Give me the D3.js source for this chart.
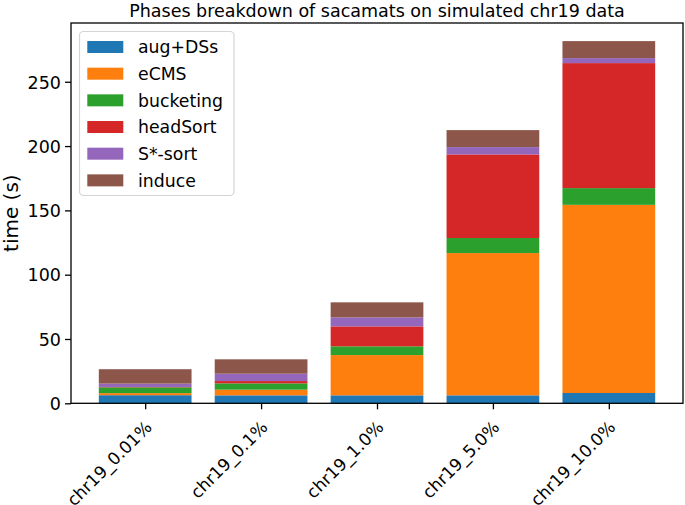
<!DOCTYPE html>
<html><head><meta charset="utf-8">
<script src="https://cdn.jsdelivr.net/npm/d3@7"></script>
<style>body{margin:0;background:#fff}svg{display:block}text{font-family:"DejaVu Sans",sans-serif;fill:#000}</style>
</head><body><svg id="c" width="685" height="505"></svg>
<script>
const categories = ["chr19_0.01%","chr19_0.1%","chr19_1.0%","chr19_5.0%","chr19_10.0%"];
const phases = ["aug+DSs","eCMS","bucketing","headSort","S*-sort","induce"];
const augDSs    = [6.3, 6.2, 6.2, 6.2, 8.0];
const eCMS      = [1.6, 4.4, 31.3, 110.6, 146.3];
const bucketing = [4.5, 4.9, 6.8, 11.7, 13.0];
const headSort  = [0.3, 1.8, 15.5, 65.0, 97.2];
const sStarSort = [2.6, 5.7, 7.0, 5.7, 3.9];
const induce    = [11.2, 11.2, 11.7, 13.2, 13.2];
const yTicks = [0, 50, 100, 150, 200, 250];
const colors = ["#1f77b4","#ff7f0e","#2ca02c","#d62728","#9467bd","#8c564b"];
const title = "Phases breakdown of sacamats on simulated chr19 data";
const yLabel = "time (s)";

const series = [augDSs, eCMS, bucketing, headSort, sStarSort, induce];
const rows = categories.map((c, i) => {
  const r = {cat: c};
  phases.forEach((p, j) => r[p] = series[j][i]);
  return r;
});
const stacked = d3.stack().keys(phases)(rows);

const L = 71, R = 683, T = 23, B = 403.3;
const totals = rows.map(r => d3.sum(phases, p => r[p]));
const yMax = d3.max(totals) * 1.05;
const y = d3.scaleLinear().domain([0, yMax]).range([B, T]);
const n = categories.length;
const x = d3.scaleLinear().domain([-0.64, n - 1 + 0.64]).range([L, R]);
const bw = x(0.8) - x(0);

const svg = d3.select("#c");

svg.append("g").selectAll("g").data(stacked).join("g")
  .attr("fill", (d, i) => colors[i])
  .selectAll("rect").data(d => d).join("rect")
  .attr("x", (d, i) => x(i) - bw / 2)
  .attr("width", bw)
  .attr("y", d => y(d[1]))
  .attr("height", d => y(d[0]) - y(d[1]));

// axes
const yAxis = d3.axisLeft(y).tickValues(yTicks).tickSize(6).tickPadding(4);
const gy = svg.append("g").attr("transform", `translate(${L},0)`).call(yAxis);
gy.select(".domain").remove();
gy.selectAll("line").attr("stroke", "#000").attr("stroke-width", 1.3);
gy.selectAll("text").style("font-size", "17.5px").attr("font-family", "DejaVu Sans").attr("dy", "0.36em");

const xAxis = d3.axisBottom(x).tickValues(d3.range(n)).tickFormat(i => categories[i]).tickSize(6).tickPadding(4);
const gx = svg.append("g").attr("transform", `translate(0,${B})`).call(xAxis);
gx.select(".domain").remove();
gx.selectAll("line").attr("stroke", "#000").attr("stroke-width", 1.3);
gx.selectAll("text")
  .style("font-size", "17px").attr("font-family", "DejaVu Sans")
  .attr("text-anchor", "end")
  .attr("x", -2).attr("y", 16).attr("dy", "0.76em")
  .attr("transform", "rotate(-45,-2,16)");

// spines
svg.append("rect").attr("x", L).attr("y", T).attr("width", R - L).attr("height", B - T)
  .attr("fill", "none").attr("stroke", "#000").attr("stroke-width", 1.3);

// title & label
svg.append("text").attr("x", (L + R) / 2).attr("y", 17).attr("text-anchor", "middle")
  .style("font-size", "17.5px").text(title);
svg.append("text").attr("transform", `translate(18,${(T + B) / 2}) rotate(-90)`)
  .attr("text-anchor", "middle").style("font-size", "20px").text(yLabel);

// legend
const lg = svg.append("g");
lg.append("rect").attr("x", 79.5).attr("y", 31.5).attr("width", 154.5).attr("height", 164)
  .attr("rx", 4).attr("fill", "#fff").attr("fill-opacity", 0.8).attr("stroke", "#d5d5d5").attr("stroke-width", 1.2);
const item = lg.selectAll("g.it").data(phases).join("g").attr("class", "it")
  .attr("transform", (d, i) => `translate(0,${47 + i * 26.67})`);
item.append("rect").attr("x", 87.3).attr("y", -6).attr("width", 36).attr("height", 12)
  .attr("fill", (d, i) => colors[i]);
item.append("text").attr("x", 138).attr("y", 0).attr("dy", "0.36em")
  .style("font-size", "17.3px").text(d => d);
</script></body></html>
